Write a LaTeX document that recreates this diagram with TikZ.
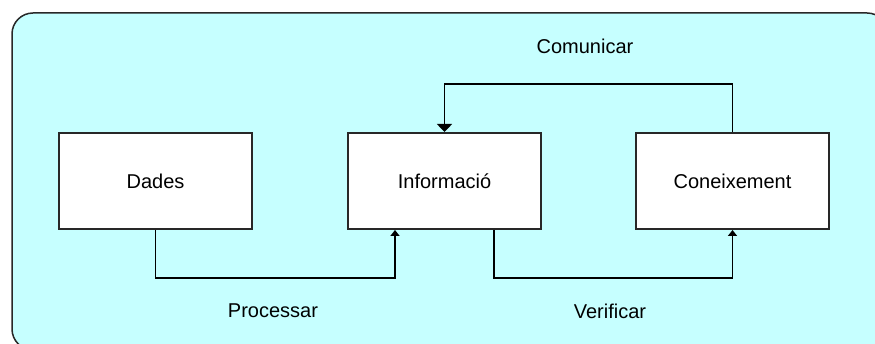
\documentclass[tikz,border=0pt]{standalone}
\usepackage{fontspec}
\setmainfont{Liberation Sans}
\usetikzlibrary{arrows.meta}
\definecolor{panel}{RGB}{198,255,255}
\definecolor{edge}{RGB}{40,40,40}
\begin{document}
\begin{tikzpicture}[x=1pt,y=-1pt,
  every node/.style={font=\fontsize{20}{23}\selectfont, inner sep=0pt},
  stagebox/.style={draw=edge, line width=2pt, fill=white,
    minimum width=193pt, minimum height=96pt},
  flow/.style={draw=black, line width=1.5pt,
    -{Triangle[width=9pt,length=6pt]}},
  backflow/.style={draw=black, line width=1.5pt,
    -{Triangle[width=15pt,length=8pt]}},
  caption/.style={}]
  \useasboundingbox (0,0) rectangle (875,344);
  \clip (0,0) rectangle (875,344);
  \fill[white] (0,0) rectangle (875,344);
  % rounded panel behind the whole process
  \draw[draw=edge, line width=1.5pt, fill=panel, rounded corners=21pt]
    (12,13) rectangle (888,350);

  % stages
  \node[stagebox] (dades) at (155.5,181) {Dades};
  \node[stagebox] (info)  at (444.5,181) {Informació};
  \node[stagebox] (coneix) at (732.5,181) {Coneixement};

  % Dades -> Informació
  \draw[flow] (dades.south) -- ++(0,48) coordinate (p1)
    -| ([xshift=48pt]info.south west);
  % Informació -> Coneixement
  \draw[flow] ([xshift=-48pt]info.south east) -- ++(0,48) coordinate (p2)
    -| (coneix.south);
  % Coneixement -> Informació
  \draw[backflow] (coneix.north) -- ++(0,-48) coordinate (p3)
    -| (info.north);

  % labels of the transitions
  \node[caption] (lproc) at (273,311) {Processar};
  \node[caption] (lver)  at (610,311) {Verificar};
  \node[caption] (lcom)  at (585,46) {Comunicar};
\end{tikzpicture}
\end{document}
